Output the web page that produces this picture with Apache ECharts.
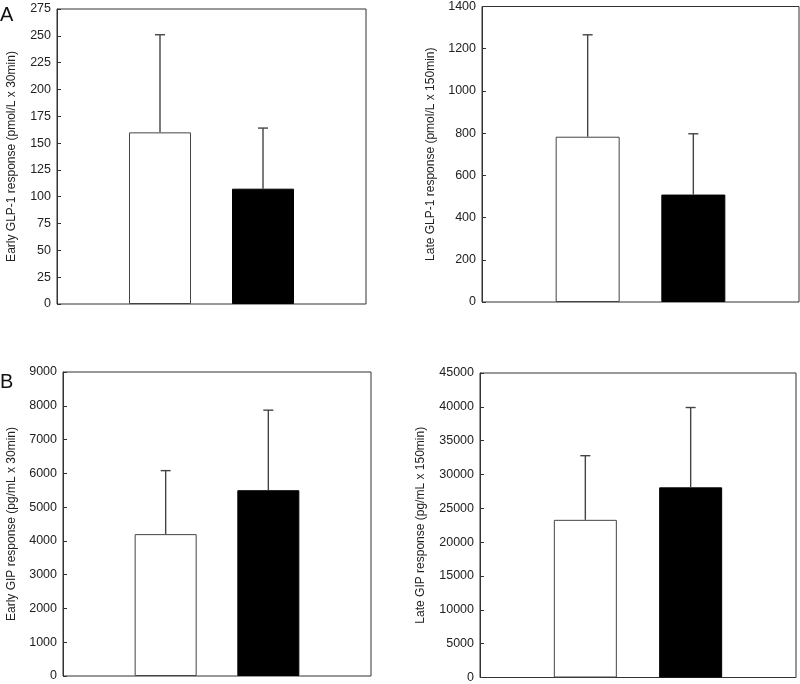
<!DOCTYPE html>
<html>
<head>
<meta charset="utf-8">
<script src="https://cdn.jsdelivr.net/npm/echarts@6/dist/echarts.min.js"></script>
<style>
  html, body { margin: 0; padding: 0; background: #fff; }
  #chart { width: 800px; height: 684px; }
</style>
</head>
<body>
<div id="chart"></div>
<script>
// bar positions on the hidden x axis (0..3), white group then black group
const groupPos = [1, 2];
const barColors = ['#ffffff', '#000000'];

const earlyGlp1 = [160, 107.5];
const earlyGlp1Sd = [91, 56.5];
const lateGlp1 = [783, 509];
const lateGlp1Sd = [483, 288];
const earlyGip = [4200, 5500];
const earlyGipSd = [1880, 2370];
const lateGip = [23300, 28100];
const lateGipSd = [9480, 11800];

const yNames = [
  'Early GLP-1 response (pmol/L x 30min)',
  'Late GLP-1 response (pmol/L x 150min)',
  'Early GIP response (pg/mL x 30min)',
  'Late GIP response (pg/mL x 150min)'
];
const yMax = [275, 1400, 9000, 45000];
const yStep = [25, 200, 1000, 5000];

const means = [earlyGlp1, lateGlp1, earlyGip, lateGip];
const sds = [earlyGlp1Sd, lateGlp1Sd, earlyGipSd, lateGipSd];

const grids = [
  { left: 57, right: 434, top: 9, bottom: 380 },
  { left: 482, right: 1, top: 5, bottom: 382 },
  { left: 63, right: 429, top: 372, bottom: 8 },
  { left: 480, right: 4, top: 373, bottom: 5 }
];
const nameGaps = [39, 45, 45, 53];
const barWidths = [62, 64, 62, 63];

const font = 'Liberation Sans, Arial, sans-serif';

const chart = echarts.init(document.getElementById('chart'));

const xAxis = [], yAxis = [], series = [];
grids.forEach((g, i) => {
  g.show = true;
  g.borderColor = '#333';
  g.borderWidth = 1;
  g.backgroundColor = 'transparent';
  xAxis.push({ type: 'value', gridIndex: i, min: 0, max: 3, show: false });
  yAxis.push({
    type: 'value', gridIndex: i, min: 0, max: yMax[i], interval: yStep[i],
    name: yNames[i], nameLocation: 'middle', nameGap: nameGaps[i], nameRotate: 90,
    nameTextStyle: { fontFamily: font, fontSize: 12, color: '#222' },
    axisLine: { show: true, lineStyle: { color: '#333', width: 1 } },
    axisTick: { show: true, inside: true, length: 4, lineStyle: { color: '#333' } },
    axisLabel: { fontFamily: font, fontSize: 12.5, color: '#222', margin: 6, formatter: v => String(v) },
    splitLine: { show: false }
  });
  series.push({
    type: 'bar', xAxisIndex: i, yAxisIndex: i, barWidth: barWidths[i],
    data: groupPos.map((p, k) => ({
      value: [p, means[i][k]],
      itemStyle: { color: barColors[k], borderColor: k ? '#000' : '#444', borderWidth: 1 }
    })),
    z: 2
  });
  series.push({
    type: 'custom', xAxisIndex: i, yAxisIndex: i, z: 3,
    data: groupPos.map((p, k) => [p, means[i][k], means[i][k] + sds[i][k]]),
    renderItem: (params, api) => {
      const lo = api.coord([api.value(0), api.value(1)]);
      const hi = api.coord([api.value(0), api.value(2)]);
      const st = { stroke: '#444', lineWidth: 1.4 };
      return {
        type: 'group',
        children: [
          { type: 'line', shape: { x1: lo[0], y1: lo[1], x2: hi[0], y2: hi[1] }, style: st },
          { type: 'line', shape: { x1: hi[0] - 5, y1: hi[1], x2: hi[0] + 5, y2: hi[1] }, style: st }
        ]
      };
    }
  });
});

chart.setOption({
  animation: false,
  backgroundColor: '#fff',
  grid: grids,
  xAxis: xAxis,
  yAxis: yAxis,
  series: series,
  graphic: [
    { type: 'text', left: 0, top: 5, style: { text: 'A', fontFamily: font, fontSize: 20, fill: '#111' } },
    { type: 'text', left: 0, top: 372, style: { text: 'B', fontFamily: font, fontSize: 20, fill: '#111' } }
  ]
});
</script>
</body>
</html>
